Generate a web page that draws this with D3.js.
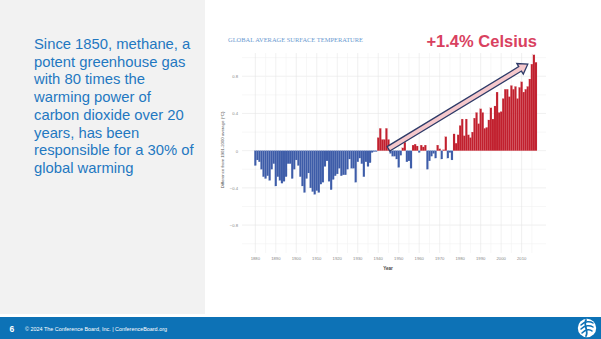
<!DOCTYPE html>
<html>
<head>
<meta charset="utf-8">
<script src="https://cdn.jsdelivr.net/npm/d3@7"></script>
<style>
  html, body { margin: 0; padding: 0; background: #ffffff; }
  svg { display: block; font-family: "Liberation Sans", Arial, sans-serif; }
</style>
</head>
<body>
<svg id="slide" width="601" height="339"></svg>
<script>
// Annual global surface temperature anomaly, °C vs. the 1901-2000 average
const years = d3.range(1880, 2018);
const anomalies = [
  -0.16, -0.10, -0.12, -0.20, -0.28, -0.30, -0.27, -0.32, -0.20, -0.14,
  -0.38, -0.28, -0.32, -0.35, -0.33, -0.28, -0.14, -0.14, -0.30, -0.20,
  -0.10, -0.16, -0.28, -0.38, -0.45, -0.30, -0.24, -0.40, -0.44, -0.47,
  -0.43, -0.45, -0.36, -0.34, -0.17, -0.11, -0.33, -0.42, -0.31, -0.27,
  -0.25, -0.19, -0.27, -0.26, -0.26, -0.20, -0.09, -0.19, -0.19, -0.34,
  -0.12, -0.08, -0.14, -0.28, -0.12, -0.17, -0.13, -0.02, -0.01, -0.01,
   0.14,  0.24,  0.12,  0.12,  0.24,  0.12, -0.03, -0.06, -0.06, -0.09,
  -0.18, -0.05,  0.03,  0.09, -0.12, -0.11, -0.19,  0.06,  0.07,  0.05,
  -0.02,  0.06,  0.04,  0.06, -0.20, -0.11, -0.06, -0.03, -0.08,  0.06,
   0.02, -0.09,  0.01,  0.15, -0.08, -0.02, -0.10,  0.18,  0.08,  0.17,
   0.27,  0.34,  0.16,  0.34,  0.17,  0.14,  0.20,  0.35,  0.41,  0.29,
   0.45,  0.41,  0.24,  0.25,  0.33,  0.46,  0.34,  0.48,  0.63,  0.41,
   0.42,  0.56,  0.66,  0.66,  0.58,  0.70,  0.66,  0.69,  0.56,  0.68,
   0.74,  0.63,  0.66,  0.69,  0.77,  0.93,  1.03,  0.95
];
const xTicks = d3.range(1880, 2011, 10);
const yTicks = [-0.8, -0.4, 0, 0.4, 0.8];
const yMinor = [-1.0, -0.6, -0.2, 0.2, 0.6, 1.0];

// Trend arrow endpoints in data space: [year, anomaly]
const trendArrow = [[1945, 0.02], [2013, 0.93]];

const bodyLines = [
  "Since 1850, methane, a",
  "potent greenhouse gas",
  "with 80 times the",
  "warming power of",
  "carbon dioxide over 20",
  "years, has been",
  "responsible for a 30% of",
  "global warming"
];

const svg = d3.select("#slide");

// Slide backdrop
svg.append("rect").attr("x", 0).attr("y", 0).attr("width", 601).attr("height", 339).attr("fill", "#ffffff");
svg.append("rect").attr("x", 0).attr("y", 0).attr("width", 205).attr("height", 314).attr("fill", "#f2f2f2");

// Body copy on the left panel
svg.append("text")
  .attr("x", 34).attr("y", 49)
  .attr("fill", "#1f78c1")
  .attr("font-size", 14.8)
  .selectAll("tspan").data(bodyLines).join("tspan")
  .attr("x", 34)
  .attr("dy", (d, i) => i === 0 ? 0 : 17.7)
  .text(d => d);

// Chart scales
const x = d3.scaleBand().domain(years).range([254.3, 537]).paddingInner(0);
const xCenter = yr => x(yr) + x.bandwidth() / 2;
const y = d3.scaleLinear().domain([-1.1, 1.05]).range([253, 53]);

const plot = svg.append("g");

// Grid lines
const gridLeft = 242, gridRight = 546;
plot.append("g").selectAll("line").data(yTicks.concat(yMinor)).join("line")
  .attr("x1", gridLeft).attr("x2", gridRight)
  .attr("y1", d => y(d)).attr("y2", d => y(d))
  .attr("stroke", d => yTicks.includes(d) ? "#e6e6e6" : "#f1f1f1")
  .attr("stroke-width", 0.6);
const xMinor = d3.range(1885, 2016, 10);
plot.append("g").selectAll("line").data(xTicks.concat(xMinor)).join("line")
  .attr("x1", d => xCenter(d)).attr("x2", d => xCenter(d))
  .attr("y1", y(1.05)).attr("y2", y(-1.1))
  .attr("stroke", d => xTicks.includes(d) ? "#e6e6e6" : "#f1f1f1")
  .attr("stroke-width", 0.6);

// Anomaly bars, with a hairline light edge between neighbours
const data = years.map((yr, i) => ({ year: yr, value: anomalies[i] }));
plot.append("g").selectAll("rect").data(data).join("rect")
  .attr("x", d => x(d.year))
  .attr("width", x.bandwidth())
  .attr("y", d => y(Math.max(0, d.value)))
  .attr("height", d => Math.max(0.6, Math.abs(y(d.value) - y(0))))
  .attr("fill", d => d.value >= 0 ? "#c1202e" : "#3d5ca8")
  .attr("stroke", d => d.value >= 0 ? "#d9666f" : "#7388c0")
  .attr("stroke-width", 0.15);

// Axes
const xAxis = d3.axisBottom(x).tickValues(xTicks).tickSize(0).tickPadding(0);
const gx = plot.append("g").attr("transform", `translate(0,${y(-1.1) + 4})`).call(xAxis);
gx.select(".domain").remove();
gx.selectAll("text").attr("font-size", 4.2).attr("fill", "#888");

const yAxis = d3.axisLeft(y).tickValues(yTicks).tickSize(0).tickPadding(0)
  .tickFormat(d => d === 0 ? "0" : d3.format(".1f")(d));
const gy = plot.append("g").attr("transform", `translate(238,0)`).call(yAxis);
gy.select(".domain").remove();
gy.selectAll("text").attr("font-size", 4.2).attr("fill", "#888");

plot.append("text")
  .attr("x", 388).attr("y", 269.5)
  .attr("text-anchor", "middle")
  .attr("font-size", 4.6).attr("font-weight", "bold").attr("fill", "#444")
  .text("Year");

plot.append("text")
  .attr("transform", `translate(223.5,150) rotate(-90)`)
  .attr("text-anchor", "middle")
  .attr("font-size", 4.3).attr("fill", "#555")
  .text("Difference from 1901-2000 average (°C)");

// Chart title
svg.append("text")
  .attr("x", 228).attr("y", 41.5)
  .attr("font-family", "'Liberation Serif', 'Times New Roman', serif")
  .attr("font-size", 6.2)
  .attr("fill", "#6a9ad0")
  .attr("textLength", 135).attr("lengthAdjust", "spacingAndGlyphs")
  .text("GLOBAL AVERAGE SURFACE TEMPERATURE");

// Headline figure
svg.append("text")
  .attr("x", 537).attr("y", 47)
  .attr("text-anchor", "end")
  .attr("font-size", 16.5).attr("font-weight", "bold")
  .attr("fill", "#d9415f")
  .text("+1.4% Celsius");

// Trend arrow drawn as an outlined block arrow
(function drawArrow() {
  const [p0, p1] = trendArrow.map(([yr, v]) => [xCenter(yr), y(v)]);
  const dx = p1[0] - p0[0], dy = p1[1] - p0[1];
  const len = Math.hypot(dx, dy);
  const ux = dx / len, uy = dy / len;
  const nx = -uy, ny = ux;
  const shaft = 2.6, head = 6.2, headLen = 9;
  const bx = p1[0] - ux * headLen, by = p1[1] - uy * headLen;
  const pts = [
    [p0[0] + nx * shaft, p0[1] + ny * shaft],
    [bx + nx * shaft, by + ny * shaft],
    [bx + nx * head, by + ny * head],
    [p1[0], p1[1]],
    [bx - nx * head, by - ny * head],
    [bx - nx * shaft, by - ny * shaft],
    [p0[0] - nx * shaft, p0[1] - ny * shaft]
  ];
  svg.append("path")
    .attr("d", d3.line()(pts) + "Z")
    .attr("fill", "#f5c8cc")
    .attr("stroke", "#2e3b68")
    .attr("stroke-width", 1.3)
    .attr("stroke-linejoin", "miter");
})();

// Footer band
svg.append("rect").attr("x", 0).attr("y", 317).attr("width", 601).attr("height", 22).attr("fill", "#0d72b6");
svg.append("text")
  .attr("x", 9.5).attr("y", 331.5)
  .attr("font-size", 8.5).attr("font-weight", "bold").attr("fill", "#ffffff")
  .text("6");
svg.append("text")
  .attr("x", 25).attr("y", 330.5)
  .attr("font-size", 5.2).attr("fill", "#ffffff")
  .attr("textLength", 142).attr("lengthAdjust", "spacingAndGlyphs")
  .text("© 2024  The Conference  Board, Inc.  |  ConferenceBoard.org");

// Footer mark: white disc with swirling strokes
const logo = svg.append("g").attr("transform", "translate(587,328)");
logo.append("circle").attr("r", 9.2).attr("fill", "#ffffff");
logo.append("path")
  .attr("d", "M-6,-3 C-2,-7 3,-7 6,-5 M-6,1 C-2,-3 3,-3 6,-1 M-5,5 C-1,1 3,1 5,3")
  .attr("fill", "none").attr("stroke", "#0d72b6").attr("stroke-width", 1.5).attr("stroke-linecap", "round");
logo.append("path")
  .attr("d", "M-1,-8 C-4,-3 2,3 -1,8")
  .attr("fill", "none").attr("stroke", "#0d72b6").attr("stroke-width", 1.8).attr("stroke-linecap", "round");
</script>
</body>
</html>
